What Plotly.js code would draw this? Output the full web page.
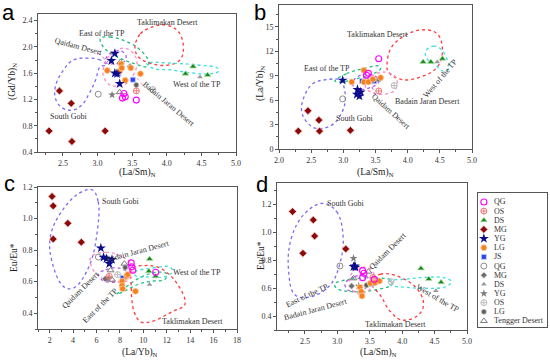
<!DOCTYPE html>
<html><head><meta charset="utf-8">
<script src="https://cdn.plot.ly/plotly-3.0.1.min.js"></script>
<style>html,body{margin:0;padding:0;background:#fff}#chart{width:550px;height:360px}</style>
</head><body><div id="chart"></div>
<script>
// ---------- legend ----------
const legendKeys   = ['QG','OS','DS','MG','YG','LG','JS','gQG','gMG','gDS','gYG','gOS','gLG','Tengger'];
const legendLabels = ['QG','OS','DS','MG','YG','LG','JS','QG','MG','DS','YG','OS','LG','Tengger Desert'];

// ---------- panel a: (La/Sm)N vs (Gd/Yb)N ----------
const a_QG  = [[3.38,1.29],[3.36,1.22],[3.40,1.24],[3.56,1.19]];
const a_OS  = [[3.56,1.33]];
const a_DS  = [[4.27,1.59],[4.38,1.70],[4.59,1.57]];
const a_MG  = [[2.30,0.72],[2.45,1.33],[2.62,1.14],[2.63,0.56],[3.11,0.72]];
const a_YG  = [[3.25,1.90],[3.20,1.79],[3.25,1.60],[3.28,1.59],[3.32,1.44]];
const a_LG  = [[3.14,1.64],[3.34,1.74],[3.32,1.63],[3.35,1.68],[3.48,1.68],[3.40,1.49],[3.62,1.59]];
const a_JS  = [[3.30,1.59],[3.51,1.50]];
const a_gQG = [[3.01,1.28]];
const a_gMG = [[3.47,1.70]];
const a_gDS = [[4.48,1.54]];
const a_gYG = [[3.21,1.27]];
const a_gOS = [[3.80,1.35]];
const a_gLG = [[3.56,1.42]];
const a_Tengger = [[3.33,1.77],[3.32,1.31]];

// ---------- panel b: (La/Sm)N vs (La/Yb)N ----------
const b_QG  = [[3.55,11.1],[3.36,9.06],[3.39,9.3]];
const b_OS  = [[3.55,7.14]];
const b_DS  = [[4.24,10.7],[4.36,10.7],[4.54,11.1]];
const b_MG  = [[2.30,2.2],[2.45,4.7],[2.62,3.55],[2.63,2.2],[3.11,2.3]];
const b_YG  = [[2.99,8.45],[3.22,7.3],[3.21,6.7],[3.25,6.5],[3.27,7.0]];
const b_LG  = [[3.13,8.24],[3.32,9.67],[3.32,8.24],[3.39,8.24],[3.46,8.57],[3.58,8.77]];
const b_JS  = [[3.29,8.36],[3.48,8.33]];
const b_gQG = [[2.99,6.16]];
const b_gMG = [[3.50,8.45]];
const b_gDS = [[4.46,10.7]];
const b_gYG = [[3.24,6.8]];
const b_gOS = [[3.79,7.8]];
const b_gLG = [[3.55,8.55]];
const b_Tengger = [[3.36,8.5]];

// ---------- panel c: (La/Yb)N vs Eu/Eu* ----------
const c_QG  = [[8.96,0.719],[9.01,0.694],[9.10,0.672],[11.05,0.660]];
const c_OS  = [[7.09,0.634]];
const c_DS  = [[10.53,0.744],[10.47,0.666],[11.05,0.634]];
const c_MG  = [[2.2,1.14],[2.3,1.08],[2.3,0.87],[3.55,0.97],[4.7,0.85]];
const c_YG  = [[6.37,0.813],[6.60,0.754],[6.85,0.746],[7.32,0.740],[7.09,0.714]];
const c_LG  = [[8.18,0.603],[8.18,0.575],[8.23,0.555],[8.58,0.634],[8.66,0.645],[9.33,0.539]];
const c_JS  = [[8.23,0.624]];
const c_gQG = [[6.16,0.756]];
const c_gMG = [[6.74,0.618]];
const c_gDS = [[10.53,0.582]];
const c_gYG = [[7.0,0.62]];
const c_gOS = [[7.80,0.645]];
const c_gLG = [[8.45,0.69]];
const c_Tengger = [[7.20,0.672],[8.38,0.714],[7.32,0.612]];

// ---------- panel d: (La/Sm)N vs Eu/Eu* ----------
const d_QG  = [[3.39,0.724],[3.41,0.705],[3.39,0.674],[3.57,0.662]];
const d_OS  = [[3.55,0.675]];
const d_DS  = [[4.29,0.740],[4.41,0.664],[4.60,0.641]];
const d_MG  = [[2.31,1.146],[2.47,0.848],[2.63,1.086],[2.65,0.971],[3.13,0.879]];
const d_YG  = [[3.25,0.752],[3.27,0.757],[3.28,0.748]];
const d_LG  = [[3.51,0.634],[3.58,0.638],[3.65,0.650],[3.35,0.605],[3.37,0.574],[3.38,0.543]];
const d_JS  = [[3.53,0.629]];
const d_gQG = [[3.04,0.757]];
const d_gMG = [[3.22,0.614]];
const d_gDS = [[4.52,0.581]];
const d_gYG = [[3.25,0.812],[3.33,0.614]];
const d_gOS = [[3.83,0.645]];
const d_gLG = [[3.45,0.62]];
const d_Tengger = [[3.25,0.669],[3.48,0.717]];

// ---------- source-region outlines ----------
const a_SouthGobi = [[3.13,1.72],[3.04,1.80],[2.85,1.83],[2.65,1.80],[2.51,1.65],[2.39,1.39],[2.40,1.19],[2.51,1.06],[2.65,1.04],[2.77,1.11],[2.88,1.29],[2.97,1.49],[3.04,1.70]];
const a_Qaidam    = [[3.11,1.77],[3.18,1.90],[3.33,1.94],[3.41,1.87],[3.38,1.77],[3.23,1.74]];
const a_EastTP    = [[3.04,2.13],[3.18,2.15],[3.42,2.08],[3.62,1.95],[3.74,1.77],[3.71,1.70],[3.52,1.75],[3.28,1.85],[3.09,1.99]];
const a_Takli     = [[3.54,1.99],[3.62,2.20],[3.81,2.31],[4.00,2.33],[4.17,2.23],[4.24,1.99],[4.19,1.80],[4.00,1.72],[3.76,1.75],[3.59,1.85]];
const a_WestTP    = [[3.71,1.75],[4.10,1.75],[4.48,1.72],[4.73,1.68],[4.75,1.63],[4.63,1.59],[4.39,1.60],[4.05,1.65],[3.81,1.67]];
const a_Badain    = [[3.09,1.70],[3.18,1.87],[3.38,1.98],[3.52,1.90],[3.57,1.75],[3.50,1.54],[3.38,1.42],[3.18,1.42],[3.09,1.54]];

const b_SouthGobi = [[2.97,8.45],[2.74,8.53],[2.53,8.04],[2.40,6.61],[2.35,4.77],[2.43,3.34],[2.58,2.53],[2.82,2.94],[2.97,4.37],[3.03,6.0],[3.01,7.63]];
const b_Qaidam    = [[3.16,8.45],[3.31,9.18],[3.50,8.94],[3.55,8.24],[3.42,7.55],[3.23,7.30],[3.15,7.83]];
const b_EastTP    = [[2.87,8.36],[3.05,9.26],[3.31,9.87],[3.55,10.2],[3.58,9.87],[3.47,9.26],[3.21,8.65],[2.97,8.24]];
const b_Takli     = [[3.68,10.49],[3.75,12.52],[3.96,13.95],[4.22,14.65],[4.46,14.16],[4.54,12.12],[4.46,10.07],[4.20,8.85],[3.91,8.53],[3.70,9.46]];
const b_WestTP    = [[4.28,12.03],[4.40,12.64],[4.51,12.32],[4.61,11.10],[4.64,9.87],[4.54,9.59],[4.44,10.28],[4.30,11.10]];
const b_Badain    = [[3.34,7.83],[3.44,8.94],[3.65,9.46],[3.82,8.77],[3.81,7.30],[3.63,6.73],[3.42,7.02]];

const c_SouthGobi = [[5.65,1.181],[6.14,1.107],[6.08,0.929],[5.36,0.697],[4.07,0.561],[3.21,0.567],[2.20,0.726],[2.06,0.886],[2.92,1.034],[4.50,1.160]];
const c_Qaidam    = [[6.16,0.651],[6.80,0.675],[7.80,0.688],[8.66,0.655],[8.47,0.613],[7.43,0.596],[6.51,0.609]];
const c_EastTP    = [[7.72,0.519],[8.53,0.567],[9.67,0.624],[11.11,0.659],[11.97,0.651],[11.83,0.613],[10.68,0.603],[9.53,0.582],[8.38,0.540]];
const c_Takli     = [[9.04,0.681],[10.1,0.702],[11.40,0.687],[12.84,0.592],[13.55,0.455],[12.54,0.413],[10.82,0.350],[9.82,0.344],[9.24,0.403],[8.96,0.571]];
const c_WestTP    = [[9.24,0.659],[10.82,0.687],[12.25,0.693],[12.49,0.666],[11.97,0.634],[10.25,0.630],[9.39,0.634]];
const c_Badain    = [[5.51,0.756],[6.80,0.786],[8.23,0.756],[9.09,0.693],[8.81,0.613],[7.52,0.603],[6.22,0.634],[5.59,0.693]];

const d_SouthGobi = [[2.78,1.205],[2.99,1.145],[3.09,0.966],[3.04,0.776],[2.89,0.621],[2.60,0.538],[2.35,0.550],[2.25,0.716],[2.29,0.955],[2.50,1.133]];
const d_Qaidam    = [[3.12,0.633],[3.27,0.681],[3.42,0.693],[3.49,0.652],[3.43,0.598],[3.27,0.574],[3.15,0.591]];
const d_EastTP    = [[2.96,0.629],[3.22,0.664],[3.58,0.671],[3.82,0.657],[3.84,0.624],[3.58,0.586],[3.22,0.574],[2.99,0.598]];
const d_Takli     = [[3.51,0.657],[3.66,0.698],[3.87,0.693],[4.20,0.609],[4.33,0.491],[4.25,0.407],[4.00,0.371],[3.82,0.431],[3.66,0.550],[3.53,0.621]];
const d_WestTP    = [[3.79,0.645],[4.07,0.664],[4.38,0.676],[4.64,0.674],[4.76,0.645],[4.67,0.609],[4.36,0.598],[4.05,0.605],[3.82,0.621]];
const d_Badain    = [[3.23,0.709],[3.39,0.748],[3.53,0.729],[3.57,0.657],[3.49,0.586],[3.33,0.557],[3.20,0.609]];

// ---------- styles ----------
const STY = {
  QG:{symbol:'circle-open',color:'#ff00ff',size:6,line:{width:1.1,color:'#ff00ff'}},
  OS:{symbol:'circle-cross-open',color:'#f07878',size:6,line:{width:1,color:'#f07878'}},
  DS:{symbol:'triangle-up',color:'#178a17',size:6,line:{width:0.7,color:'#bde3bd'}},
  MG:{symbol:'diamond',color:'#8b0a0a',size:6,line:{width:0.8,color:'#f2c8c8'}},
  YG:{symbol:'star',color:'#0b0b8c',size:7.5,line:{width:0}},
  LG:{symbol:'circle',color:'#f7801e',size:6,line:{width:0.8,color:'#fdd0a8'}},
  JS:{symbol:'square',color:'#2a46e8',size:5,line:{width:0.8,color:'#c8d0ff'}},
  gQG:{symbol:'circle-open',color:'#8c8c8c',size:6,line:{width:1,color:'#8c8c8c'}},
  gMG:{symbol:'diamond',color:'#6e6e6e',size:5,line:{width:0.8,color:'#dddddd'}},
  gDS:{symbol:'triangle-up',color:'#9a9a9a',size:5,line:{width:0}},
  gYG:{symbol:'star',color:'#7a7a7a',size:6,line:{width:0}},
  gOS:{symbol:'circle-cross-open',color:'#bdbdbd',size:6,line:{width:1,color:'#bdbdbd'}},
  gLG:{symbol:'circle',color:'#5e5e5e',size:5,line:{width:0.8,color:'#bbbbbb'}},
  Tengger:{symbol:'triangle-up-open',color:'#7a7a7a',size:6,line:{width:1,color:'#7a7a7a'}}
};
const REGCOL = {SouthGobi:'#7a6cf0', Qaidam:'#b455e6', EastTP:'#1fbf7f', Takli:'#ff3b3b', WestTP:'#3fdede', Badain:'#ff8cc6'};

const panels = {
  a:{ax:['x','y'], pts:{QG:a_QG,OS:a_OS,DS:a_DS,MG:a_MG,YG:a_YG,LG:a_LG,JS:a_JS,gQG:a_gQG,gMG:a_gMG,gDS:a_gDS,gYG:a_gYG,gOS:a_gOS,gLG:a_gLG,Tengger:a_Tengger},
      reg:{SouthGobi:a_SouthGobi,Qaidam:a_Qaidam,EastTP:a_EastTP,Takli:a_Takli,WestTP:a_WestTP,Badain:a_Badain}},
  b:{ax:['x2','y2'], pts:{QG:b_QG,OS:b_OS,DS:b_DS,MG:b_MG,YG:b_YG,LG:b_LG,JS:b_JS,gQG:b_gQG,gMG:b_gMG,gDS:b_gDS,gYG:b_gYG,gOS:b_gOS,gLG:b_gLG,Tengger:b_Tengger},
      reg:{SouthGobi:b_SouthGobi,Qaidam:b_Qaidam,EastTP:b_EastTP,Takli:b_Takli,WestTP:b_WestTP,Badain:b_Badain}},
  c:{ax:['x3','y3'], pts:{QG:c_QG,OS:c_OS,DS:c_DS,MG:c_MG,YG:c_YG,LG:c_LG,JS:c_JS,gQG:c_gQG,gMG:c_gMG,gDS:c_gDS,gYG:c_gYG,gOS:c_gOS,gLG:c_gLG,Tengger:c_Tengger},
      reg:{SouthGobi:c_SouthGobi,Qaidam:c_Qaidam,EastTP:c_EastTP,Takli:c_Takli,WestTP:c_WestTP,Badain:c_Badain}},
  d:{ax:['x4','y4'], pts:{QG:d_QG,OS:d_OS,DS:d_DS,MG:d_MG,YG:d_YG,LG:d_LG,JS:d_JS,gQG:d_gQG,gMG:d_gMG,gDS:d_gDS,gYG:d_gYG,gOS:d_gOS,gLG:d_gLG,Tengger:d_Tengger},
      reg:{SouthGobi:d_SouthGobi,Qaidam:d_Qaidam,EastTP:d_EastTP,Takli:d_Takli,WestTP:d_WestTP,Badain:d_Badain}}
};

const traces = [];
for (const p of Object.values(panels)) {
  for (const [k, pts] of Object.entries(p.reg)) {
    const cl = pts.concat([pts[0]]);
    traces.push({x:cl.map(q=>q[0]), y:cl.map(q=>q[1]), xaxis:p.ax[0], yaxis:p.ax[1], mode:'lines',
      line:{color:REGCOL[k], width:1.3, dash:'dot', shape:'spline', smoothing:1.1}, showlegend:false, hoverinfo:'skip'});
  }
}
const drawOrder = ['gOS','gQG','gMG','gDS','gYG','gLG','Tengger','OS','DS','MG','JS','LG','QG','YG'];
for (const p of Object.values(panels)) {
  for (const k of drawOrder) {
    const pts = p.pts[k]; if (!pts || !pts.length) continue;
    traces.push({x:pts.map(q=>q[0]), y:pts.map(q=>q[1]), xaxis:p.ax[0], yaxis:p.ax[1], mode:'markers',
      marker:STY[k], showlegend:false});
  }
}
// manual legend
legendKeys.forEach((k,i)=>{
  traces.push({x:[0.085], y:[i], xaxis:'x5', yaxis:'y5', mode:'markers', marker:STY[k], showlegend:false, hoverinfo:'skip'});
});

const W=550,H=360;
const dx=(l,r)=>[l/W,r/W], dy=(t,b)=>[1-b/H,1-t/H];
const TF={family:'Liberation Serif, Times New Roman, serif', size:8, color:'#333'};
function ax(range,dtick,domain,anchor,fmt,minorD){
  return {range, dtick, tick0:0, domain, anchor, tickformat:fmt, showline:true, mirror:true,
    linecolor:'#555', linewidth:1, ticks:'outside', ticklen:3, tickcolor:'#555', tickfont:TF,
    showgrid:false, zeroline:false, automargin:false, fixedrange:true,
    minor:{dtick:minorD, ticks:'outside', ticklen:2, tickcolor:'#555', showgrid:false}};
}
const layout = {
  width:W, height:H, margin:{l:0,r:0,t:0,b:0}, paper_bgcolor:'#fff', plot_bgcolor:'#fff', showlegend:false,
  xaxis: ax([2.14,5.0],0.5,dx(38,236),'y','.1f',0.25),
  yaxis: ax([0.4,2.5],0.4,dy(14,152),'x','.1f',0.2),
  xaxis2:ax([2.0,5.0],0.5,dx(279,472),'y2','.1f',0.25),
  yaxis2:ax([0,17.7],3,dy(5,149),'x2','d',1.5),
  xaxis3:ax([1,18],2,dx(38,237),'y3','d',1),
  yaxis3:ax([0.3,1.2],0.2,dy(187,329),'x3','.1f',0.1),
  xaxis4:ax([2.07,5.0],0.5,dx(277,467),'y4','.1f',0.25),
  yaxis4:ax([0.3,1.35],0.2,dy(183,330),'x4','.1f',0.1),
  xaxis5:{domain:dx(478,547), anchor:'y5', range:[0,1], showline:true, mirror:true, linecolor:'#555', linewidth:1,
          showticklabels:false, ticks:'', showgrid:false, zeroline:false, fixedrange:true},
  yaxis5:{domain:dy(193,327), anchor:'x5', range:[13.66,-0.98], showline:true, mirror:true, linecolor:'#555', linewidth:1,
          showticklabels:false, ticks:'', showgrid:false, zeroline:false, fixedrange:true},
  annotations:[], shapes:[]
};
const A = layout.annotations;
function pa(text,px,py,opt){ A.push(Object.assign({text, x:px/W, y:1-py/H, xref:'paper', yref:'paper', showarrow:false,
  xanchor:'center', yanchor:'middle', font:TF}, opt||{})); }
// region labels
const regionLabels = [
  ['Taklimakan Desert',167,22,0],['East of the TP',102,33,0],['Qaidam Desert',78,47,15],['South Gobi',68,117,0],
  ['West of the TP',197,84,0],['Badain Jaran Desert',168,104,40],
  ['Taklimakan Desert',377,34,0],['East of the TP',327,68,0],['West of the TP',440,78,-50],['Badain Jaran Desert',427,101,0],
  ['Qaidam Desert',391,111,42],['South Gobi',354,119,0],
  ['South Gobi',120,201,0],['Badain Jaran Desert',137,251,-15],['West of the TP',197,272,0],['Qaidam Desert',80,290,-45],
  ['East of the TP',100,305,-45],['Taklimakan Desert',192,321,0],
  ['South Gobi',345,203,0],['Qaidam Desert',387,251,-45],['East of the TP',307,295,-25],['Badain Jaran Desert',315,309,-15],
  ['West of the TP',438,298,30],['Taklimakan Desert',395,324,0]
];
regionLabels.forEach(r=>pa(r[0],r[1],r[2],{textangle:r[3]}));
// axis titles
const TT={family:'Liberation Serif, Times New Roman, serif', size:9.5, color:'#222'};
pa('(La/Sm)<sub>N</sub>',137,172,{font:TT, yanchor:'middle'});
pa('(Gd/Yb)<sub>N</sub>',13,82,{font:TT,textangle:-90});
pa('(La/Sm)<sub>N</sub>',375,172,{font:TT});
pa('(La/Yb)<sub>N</sub>',260,83,{font:TT,textangle:-90});
pa('(La/Yb)<sub>N</sub>',140,352,{font:TT});
pa('Eu/Eu*',14,258,{font:TT,textangle:-90});
pa('(La/Sm)<sub>N</sub>',378,352,{font:TT});
pa('Eu/Eu*',261,256,{font:TT,textangle:-90});
// panel letters
const LF={family:'Liberation Sans, Arial, sans-serif', size:22, color:'#000'};
pa('a',8,13,{font:LF}); pa('b',260,13,{font:LF}); pa('c',9,183,{font:LF}); pa('d',262,185,{font:LF});
// legend labels
legendLabels.forEach((t,i)=>A.push({text:t, x:0.2, y:i, xref:'x5', yref:'y5', showarrow:false, xanchor:'left', yanchor:'middle', font:TF}));
// leader lines
function ln(x0,y0,x1,y1,c){ layout.shapes.push({type:'line', xref:'paper', yref:'paper', x0:x0/W, y0:1-y0/H, x1:x1/W, y1:1-y1/H, line:{color:c,width:1,dash:'dot'}}); }
ln(98,53,108,62,REGCOL.Qaidam); ln(137,78,145,88,REGCOL.Badain); ln(372,87,377,98,REGCOL.Qaidam);

Plotly.newPlot('chart', traces, layout, {staticPlot:true, displayModeBar:false});
</script></body></html>
